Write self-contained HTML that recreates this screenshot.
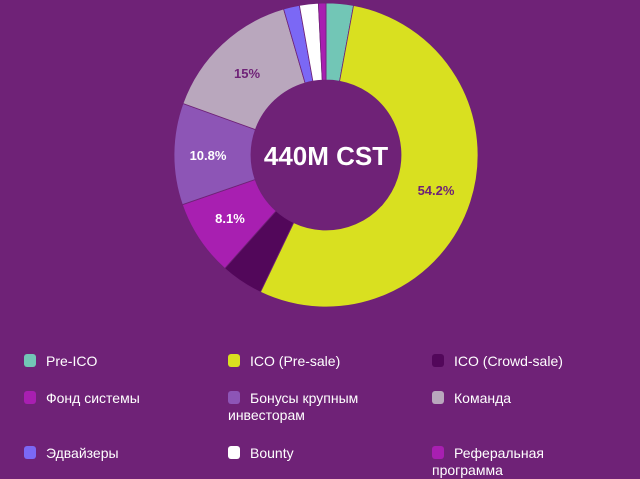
<!DOCTYPE html>
<html><head><meta charset="utf-8"><style>
body{margin:0;width:640px;height:479px;background:#6f2277;overflow:hidden;font-family:"Liberation Sans","DejaVu Sans",sans-serif;}
.lg{position:absolute;color:#fff;font-size:14px;line-height:17px;width:190px;}
.lg i{display:inline-block;width:12px;height:13px;border-radius:3px;vertical-align:-1px;margin-right:10px;}
</style></head><body>
<svg id="s" width="640" height="330" style="position:absolute;left:0;top:0"></svg>
<div class="lg" style="left:24px;top:353px"><i style="background:#72c6b6"></i>Pre-ICO</div>
<div class="lg" style="left:228px;top:353px"><i style="background:#d9e020"></i>ICO (Pre-sale)</div>
<div class="lg" style="left:432px;top:353px"><i style="background:#52075a"></i>ICO (Crowd-sale)</div>
<div class="lg" style="left:24px;top:390px"><i style="background:#a81fb1"></i>Фонд системы</div>
<div class="lg" style="left:228px;top:390px"><i style="background:#8d55b6"></i>Бонусы крупным инвесторам</div>
<div class="lg" style="left:432px;top:390px"><i style="background:#b9a7bd"></i>Команда</div>
<div class="lg" style="left:24px;top:445px"><i style="background:#7b68f5"></i>Эдвайзеры</div>
<div class="lg" style="left:228px;top:445px"><i style="background:#ffffff"></i>Bounty</div>
<div class="lg" style="left:432px;top:445px;width:150px"><i style="background:#a81fb1"></i>Реферальная программа</div>
<script>
var d=[[2.9,"#72c6b6"],[54.2,"#d9e020"],[4.5,"#52075a"],[8.1,"#a81fb1"],[10.8,"#8d55b6"],[15,"#b9a7bd"],[1.7,"#7b68f5"],[2,"#ffffff"],[0.8,"#a81fb1"]];
var cx=326,cy=155,R=152,r=75,a=0,h="";
function p(rad,ang){ang=ang*Math.PI/180;return (cx+rad*Math.sin(ang)).toFixed(2)+","+(cy-rad*Math.cos(ang)).toFixed(2);}
d.forEach(function(s){var b=a+s[0]*3.6,l=(b-a)>180?1:0;
h+='<path d="M'+p(R,a)+' A'+R+','+R+' 0 '+l+' 1 '+p(R,b)+' L'+p(r,b)+' A'+r+','+r+' 0 '+l+' 0 '+p(r,a)+'Z" fill="'+s[1]+'" stroke="#6f2277" stroke-width="0.8"/>';a=b;});
h+='<text x="326" y="165" text-anchor="middle" fill="#fff" font-size="26" font-weight="bold" font-family="Liberation Sans,sans-serif">440M CST</text>';
var t=[[436,195,"54.2%","#6f2277"],[247,78,"15%","#6f2277"],[208,160,"10.8%","#fff"],[230,223,"8.1%","#fff"]];
t.forEach(function(q){h+='<text x="'+q[0]+'" y="'+q[1]+'" text-anchor="middle" fill="'+q[3]+'" font-size="13" font-weight="bold" font-family="Liberation Sans,sans-serif">'+q[2]+'</text>';});
document.getElementById("s").innerHTML=h;
</script>
</body></html>
